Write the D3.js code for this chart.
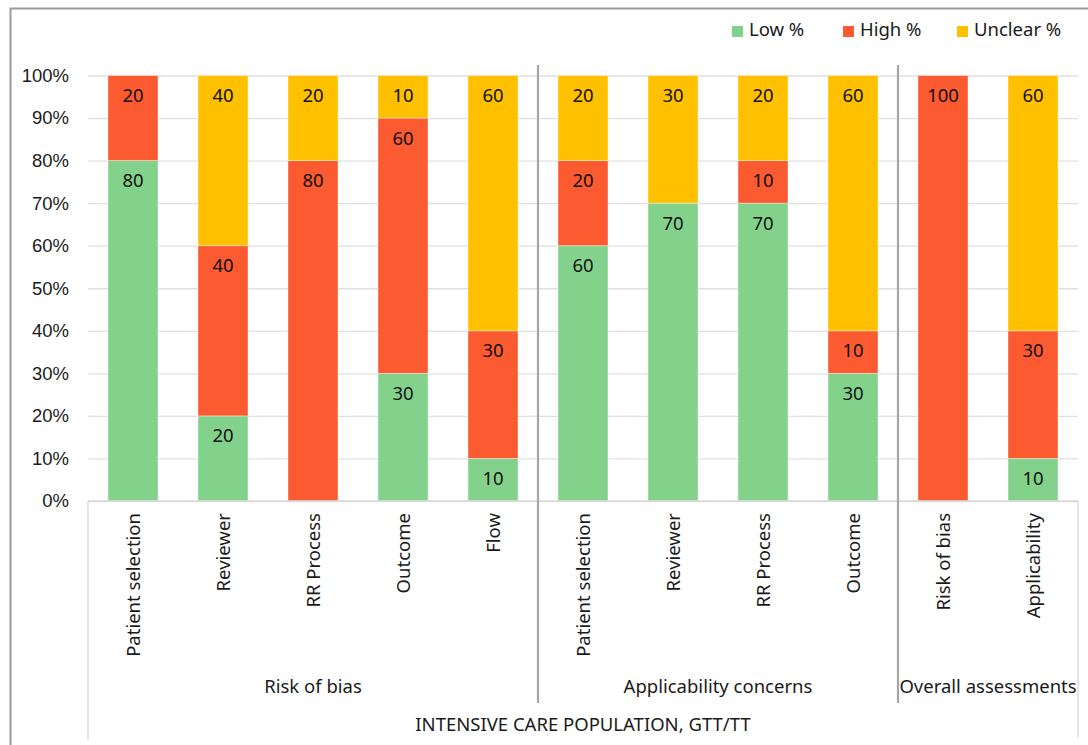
<!DOCTYPE html>
<html>
<head>
<meta charset="utf-8">
<script src="https://cdn.jsdelivr.net/npm/d3@7"></script>
<style>
  html, body { margin: 0; padding: 0; background: #fff; }
  svg { display: block; font-family: "Noto Sans", "Open Sans", sans-serif; }
</style>
</head>
<body>
<svg id="chart" width="1088" height="745"></svg>
<script>
// Category labels, in display order
const categories = ["Patient selection", "Reviewer", "RR Process", "Outcome", "Flow",
                    "Patient selection", "Reviewer", "RR Process", "Outcome",
                    "Risk of bias", "Applicability"];
// Group labels and how many categories each group spans
const groupNames = ["Risk of bias", "Applicability concerns", "Overall assessments"];
const groupSizes = [5, 4, 2];
// Series values (percent)
const lowPct     = [80, 20, 0, 30, 10, 60, 70, 70, 30, 0, 10];
const highPct    = [20, 40, 80, 60, 30, 20, 0, 10, 10, 100, 30];
const unclearPct = [0, 40, 20, 10, 60, 20, 30, 20, 60, 0, 60];
const seriesNames = ["Low %", "High %", "Unclear %"];
const seriesColors = ["#82D28C", "#FC5A30", "#FFC000"];
const yTicks = [0, 10, 20, 30, 40, 50, 60, 70, 80, 90, 100];
const axisTitle = "INTENSIVE CARE POPULATION, GTT/TT";

const FS = 18.5;
const svg = d3.select("#chart");

const plot = { left: 88, right: 1078, top: 75.5, bottom: 501 };

const x = d3.scaleBand()
  .domain(d3.range(categories.length))
  .range([plot.left, plot.right])
  .paddingInner(40 / 90)
  .paddingOuter(20 / 90);

const y = d3.scaleLinear().domain([0, 100]).range([plot.bottom, plot.top]);

// Outer chart frame
svg.append("path")
  .attr("d", `M10.5,745 V8.5 H1088`)
  .attr("fill", "none")
  .attr("stroke", "#9a9a9a")
  .attr("stroke-width", 2);

// Horizontal gridlines + tick labels
const yAxis = d3.axisLeft(y)
  .tickValues(yTicks)
  .tickSize(-(plot.right - plot.left))
  .tickPadding(20)
  .tickFormat(d => d + "%");

const gy = svg.append("g")
  .attr("transform", `translate(${plot.left},0)`)
  .call(yAxis);
gy.select(".domain").remove();
gy.selectAll(".tick line").attr("stroke", "#e0e0e0").attr("stroke-width", 1.3);
gy.selectAll(".tick text")
  .attr("fill", "#1a1a1a")
  .attr("font-size", FS)
  .attr("x", -19);

// Stacked bars
const rows = categories.map((c, i) => ({ i, low: lowPct[i], high: highPct[i], unclear: unclearPct[i] }));
const stack = d3.stack().keys(["low", "high", "unclear"]);
const layers = stack(rows);

const layerG = svg.append("g").selectAll("g")
  .data(layers)
  .join("g")
  .attr("fill", (d, k) => seriesColors[k]);

layerG.selectAll("rect")
  .data(d => d.filter(s => s[1] - s[0] > 0))
  .join("rect")
  .attr("x", s => x(s.data.i))
  .attr("width", x.bandwidth())
  .attr("y", s => y(s[1]))
  .attr("height", s => y(s[0]) - y(s[1]))
  .attr("stroke", "#ffffff")
  .attr("stroke-opacity", 0.5)
  .attr("stroke-width", 0.8);

// Value labels, placed near the top of each segment
layerG.selectAll("text")
  .data(d => d.filter(s => s[1] - s[0] > 0).map(s => ({ s, key: d.key })))
  .join("text")
  .attr("x", o => x(o.s.data.i) + x.bandwidth() / 2)
  .attr("y", o => y(o.s[1]) + 21.5)
  .attr("text-anchor", "middle")
  .attr("dominant-baseline", "middle")
  .attr("font-size", FS)
  .attr("fill", "#111")
  .text(o => o.s.data[o.key]);

// Category axis: baseline and outer frame lines
const axisG = svg.append("g");
axisG.append("line")
  .attr("x1", plot.left).attr("x2", plot.right)
  .attr("y1", plot.bottom).attr("y2", plot.bottom)
  .attr("stroke", "#d9d9d9").attr("stroke-width", 1.3);
axisG.append("line")
  .attr("x1", plot.left).attr("x2", plot.left)
  .attr("y1", plot.bottom).attr("y2", 740)
  .attr("stroke", "#d9d9d9").attr("stroke-width", 1.3);
axisG.append("line")
  .attr("x1", plot.right).attr("x2", plot.right)
  .attr("y1", plot.bottom).attr("y2", 738)
  .attr("stroke", "#d9d9d9").attr("stroke-width", 1.3);

// Rotated category labels
axisG.selectAll("text.cat")
  .data(categories)
  .join("text")
  .attr("class", "cat")
  .attr("transform", (d, i) => `translate(${x(i) + x.bandwidth() / 2 + 7},${plot.bottom + 12}) rotate(-90)`)
  .attr("text-anchor", "end")
  .attr("font-size", FS)
  .attr("fill", "#1a1a1a")
  .text(d => d);

// Group labels and separators
let start = 0;
const groups = groupNames.map((g, k) => {
  const o = { name: g, first: start, last: start + groupSizes[k] - 1 };
  start += groupSizes[k];
  return o;
});
const step = x.step();
groups.forEach((gr, k) => {
  const left = k === 0 ? plot.left : x(gr.first) - (step - x.bandwidth()) / 2;
  const right = k === groups.length - 1 ? plot.right : x(gr.last) + x.bandwidth() + (step - x.bandwidth()) / 2;
  axisG.append("text")
    .attr("x", (left + right) / 2)
    .attr("y", 693)
    .attr("text-anchor", "middle")
    .attr("font-size", FS)
    .attr("fill", "#1a1a1a")
    .text(gr.name);
  if (k > 0) {
    svg.append("line")
      .attr("x1", left).attr("x2", left)
      .attr("y1", 65).attr("y2", 703)
      .attr("stroke", "#a6a6a6").attr("stroke-width", 2.2);
  }
});

// Axis title
axisG.append("text")
  .attr("x", (plot.left + plot.right) / 2)
  .attr("y", 731)
  .attr("text-anchor", "middle")
  .attr("font-size", FS)
  .attr("fill", "#1a1a1a")
  .text(axisTitle);

// Legend
const legendX = [732, 843, 957];
const legend = svg.append("g").selectAll("g")
  .data(seriesNames)
  .join("g")
  .attr("transform", (d, k) => `translate(${legendX[k]},26)`);
legend.append("rect")
  .attr("width", 11).attr("height", 11)
  .attr("fill", (d, k) => seriesColors[k]);
legend.append("text")
  .attr("x", 17).attr("y", 5.5)
  .attr("dominant-baseline", "middle")
  .attr("font-size", FS)
  .attr("fill", "#1a1a1a")
  .text(d => d);
</script>
</body>
</html>
